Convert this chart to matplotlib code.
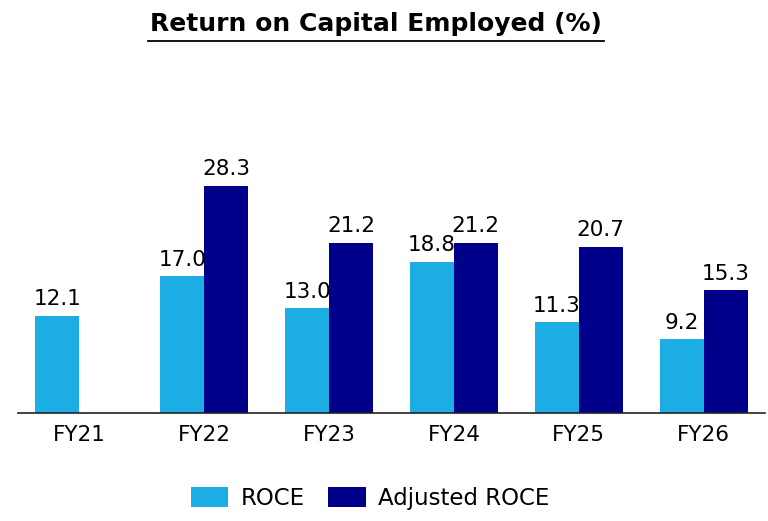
import numpy as np
import matplotlib.pyplot as plt

plt.rcParams['font.family'] = ['DejaVu Sans']

years = ['FY21', 'FY22', 'FY23', 'FY24', 'FY25', 'FY26']
roce = [12.1, 17.0, 13.0, 18.8, 11.3, 9.2]
adj_roce = [None, 28.3, 21.2, 21.2, 20.7, 15.3]

light = '#1CADE4'
dark = '#00008B'

fig = plt.figure(figsize=(7.68, 5.21), dpi=100)
ax = fig.add_axes([0.0234, 0.2073, 0.9727, 0.54])

x = np.arange(len(years))
w = 0.35
b1 = ax.bar(x - w/2, roce, w, color=light, label='ROCE')
xa = [x[i] + w/2 for i in range(len(years)) if adj_roce[i] is not None]
va = [v for v in adj_roce if v is not None]
b2 = ax.bar(xa, va, w, color=dark, label='Adjusted ROCE')

for r, v in zip(b1, roce):
    ax.text(r.get_x() + r.get_width()/2, v + 0.8, f'{v:.1f}', ha='center', va='bottom', fontsize=15.5)
for r, v in zip(b2, va):
    ax.text(r.get_x() + r.get_width()/2, v + 0.8, f'{v:.1f}', ha='center', va='bottom', fontsize=15.5)

ax.set_xlim(-0.49, 5.49)
ax.set_ylim(0, 35)
ax.set_xticks(x)
ax.set_xticklabels(years, fontsize=15.5)
ax.tick_params(axis='x', length=0, pad=9)
ax.set_yticks([])
for s in ['top', 'right', 'left']:
    ax.spines[s].set_visible(False)
ax.spines['bottom'].set_color('#222222')
ax.spines['bottom'].set_linewidth(1.2)

fig.text(0.49, 0.953, 'Return on Capital Employed (%)', ha='center', va='center',
         fontsize=18, fontweight='bold')
fig.add_artist(plt.Line2D([0.193, 0.786], [0.922, 0.922], color='black', lw=1.3))

fig.legend(loc='center', bbox_to_anchor=(0.482, 0.044), ncol=2, frameon=False,
           fontsize=16.5, handlelength=1.65, handleheight=1.0, columnspacing=1.0, handletextpad=0.55)

fig.savefig('out.png', dpi=100)
